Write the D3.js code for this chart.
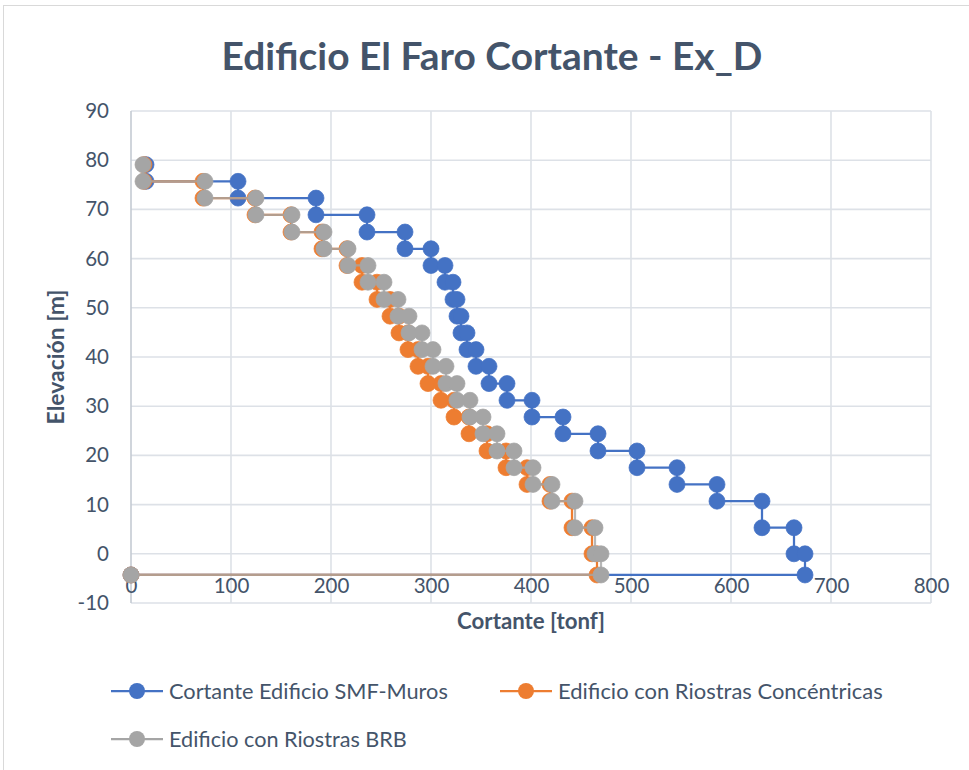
<!DOCTYPE html>
<html><head><meta charset="utf-8">
<script src="https://cdn.jsdelivr.net/npm/d3@7"></script>
<style>body{margin:0;background:#fff}svg{display:block}</style>
</head><body>
<svg id="c" width="969" height="770"></svg>
<script>
// ---- data ----
const elevations = [79.1, 75.7, 72.3, 68.9, 65.4, 62.0, 58.6, 55.2, 51.7, 48.3, 44.9, 41.5, 38.1, 34.6, 31.2, 27.8, 24.4, 20.9, 17.5, 14.1, 10.7, 5.3, 0, -4.3];
const shearSMF  = [15, 107, 185, 236, 274, 300, 314, 322, 326, 330, 336, 345, 358, 376, 401, 432, 467, 506, 546, 586, 631, 663, 674, 0];
const shearConc = [13, 72, 124, 160, 191, 216, 231, 246, 259, 268, 277, 287, 297, 310, 323, 338, 356, 375, 396, 419, 441, 461, 466, 0];
const shearBRB  = [12, 74, 125, 161, 193, 217, 237, 253, 267, 278, 291, 302, 315, 326, 339, 352, 366, 383, 402, 421, 444, 464, 470, 0];
const seriesNames = ["Cortante Edificio SMF-Muros", "Edificio con Riostras Concéntricas", "Edificio con Riostras BRB"];
const xTicks = [0, 100, 200, 300, 400, 500, 600, 700, 800];
const yTicks = [-10, 0, 10, 20, 30, 40, 50, 60, 70, 80, 90];
const titleText = "Edificio El Faro Cortante - Ex_D";
const xTitle = "Cortante [tonf]";
const yTitle = "Elevación [m]";
const colors = ["#4472C4", "#ED7D31", "#A5A5A5"];

// ---- drawing ----
const FONT = "Lato, 'Open Sans', sans-serif";
const TXT = "#44546A";
const svg = d3.select("#c");
const x = d3.scaleLinear().domain([0, 800]).range([131, 931]);
const y = d3.scaleLinear().domain([-10, 90]).range([603, 111]);

function fit(t, w) {
  const fs = parseFloat(t.attr("font-size"));
  const cur = t.node().getComputedTextLength();
  t.attr("font-size", fs * w / cur);
  return t;
}

// chart border
svg.append("rect").attr("x", 3.5).attr("y", 5.5).attr("width", 975).attr("height", 775)
  .attr("fill", "#fff").attr("stroke", "#D9D9D9").attr("stroke-width", 1);

// gridlines
const grid = svg.append("g");
grid.selectAll("line.h").data(yTicks).join("line")
  .attr("x1", x(0)).attr("x2", x(800)).attr("y1", d => y(d)).attr("y2", d => y(d))
  .attr("stroke", "#DDE1E7").attr("stroke-width", 1.6);
grid.selectAll("line.v").data(xTicks).join("line")
  .attr("x1", d => x(d)).attr("x2", d => x(d)).attr("y1", y(90)).attr("y2", y(-10))
  .attr("stroke", d => d === 0 ? "#C5CBD3" : "#DDE1E7").attr("stroke-width", 1.6);

// tick labels via axes (plain hyphen minus like the reference)
const fmt = d => String(d);
const yAxis = svg.append("g").attr("transform", `translate(${x(0)},0)`)
  .call(d3.axisLeft(y).tickValues(yTicks).tickFormat(fmt).tickSize(0).tickPadding(22));
yAxis.select(".domain").remove();
yAxis.attr("font-size", 20.5).attr("font-family", FONT);
yAxis.selectAll("text").attr("font-family", FONT).attr("font-size", 20.5).attr("fill", TXT);

const xAxis = svg.append("g").attr("transform", `translate(0,${y(0)})`)
  .call(d3.axisBottom(x).tickValues(xTicks).tickFormat(fmt).tickSize(0).tickPadding(25));
xAxis.select(".domain").remove();
xAxis.attr("font-size", 20.5).attr("font-family", FONT);
xAxis.selectAll("text").attr("font-family", FONT).attr("font-size", 20.5).attr("fill", TXT);

// series
const series = [shearSMF, shearConc, shearBRB].map((v, k) => {
  const pts = [[v[0], elevations[0]]];
  for (let i = 1; i < v.length; i++) {
    pts.push([v[i - 1], elevations[i]], [v[i], elevations[i]]);
  }
  return { name: seriesNames[k], color: colors[k], pts };
});
const line = d3.line().x(d => x(d[0])).y(d => y(d[1]));
series.forEach((s, k) => {
  const g = svg.append("g");
  g.append("path").attr("d", line(s.pts)).attr("fill", "none")
    .attr("stroke", s.color).attr("stroke-width", 2.25)
    .attr("stroke-opacity", k === 2 ? 0.8 : 1);
  g.selectAll("circle").data(s.pts).join("circle")
    .attr("cx", d => x(d[0])).attr("cy", d => y(d[1])).attr("r", 8)
    .attr("fill", s.color).attr("stroke", s.color).attr("stroke-width", 0.75);
});

// title
fit(svg.append("text").text(titleText).attr("x", 492).attr("y", 70)
  .attr("text-anchor", "middle").attr("font-family", FONT).attr("font-weight", "bold")
  .attr("font-size", 32).attr("fill", TXT), 541);

// axis titles
fit(svg.append("text").text(xTitle).attr("x", 531).attr("y", 629)
  .attr("text-anchor", "middle").attr("font-family", FONT).attr("font-weight", "bold")
  .attr("font-size", 18).attr("fill", TXT), 148);
fit(svg.append("text").text(yTitle).attr("transform", "translate(64,357) rotate(-90)")
  .attr("text-anchor", "middle").attr("font-family", FONT).attr("font-weight", "bold")
  .attr("font-size", 18).attr("fill", TXT), 135);

// legend
const legendPos = [[111, 691, 279], [500, 691, 325], [111, 739, 238]];
series.forEach((s, k) => {
  const [lx, ly, w] = legendPos[k];
  const g = svg.append("g");
  g.append("line").attr("x1", lx).attr("x2", lx + 52).attr("y1", ly).attr("y2", ly)
    .attr("stroke", s.color).attr("stroke-width", 2.25);
  g.append("circle").attr("cx", lx + 26).attr("cy", ly).attr("r", 8).attr("fill", s.color);
  fit(g.append("text").text(s.name).attr("x", lx + 58).attr("y", ly).attr("dy", "0.35em")
    .attr("font-family", FONT).attr("font-size", 18).attr("fill", TXT), w);
});
</script>
</body></html>
